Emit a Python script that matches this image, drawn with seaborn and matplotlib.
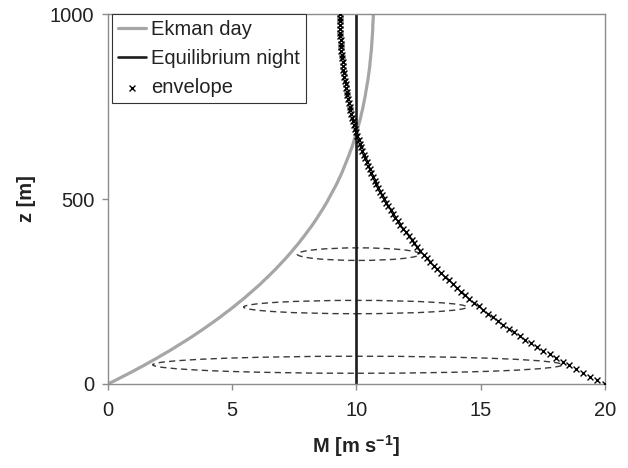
import numpy as np
import pandas as pd
import seaborn as sns
import matplotlib
matplotlib.use("Agg")
import matplotlib.pyplot as plt
from matplotlib.patches import Ellipse

# heights [m], 10 m steps
z = np.arange(0, 1001, 10)

# wind speed M [m/s]
ekman_day = [
    0.00, 0.30, 0.59, 0.88, 1.16, 1.44, 1.70, 1.97, 2.22, 2.48, 2.72,
    2.96, 3.20, 3.43, 3.65, 3.87, 4.08, 4.29, 4.50, 4.69, 4.89,
    5.08, 5.26, 5.45, 5.62, 5.79, 5.96, 6.13, 6.28, 6.44, 6.59,
    6.74, 6.88, 7.02, 7.16, 7.29, 7.42, 7.54, 7.67, 7.78, 7.90,
    8.01, 8.12, 8.23, 8.33, 8.43, 8.52, 8.62, 8.71, 8.80, 8.88,
    8.96, 9.04, 9.12, 9.20, 9.27, 9.34, 9.41, 9.47, 9.53, 9.59,
    9.65, 9.71, 9.76, 9.82, 9.87, 9.91, 9.96, 10.01, 10.05, 10.09,
    10.13, 10.17, 10.20, 10.24, 10.27, 10.30, 10.33, 10.36, 10.38, 10.41,
    10.43, 10.46, 10.48, 10.50, 10.52, 10.54, 10.55, 10.57, 10.58, 10.60,
    10.61, 10.62, 10.63, 10.64, 10.65, 10.66, 10.66, 10.67, 10.68, 10.68,
]
envelope = [
    20.00, 19.70, 19.41, 19.12, 18.84, 18.56, 18.30, 18.03, 17.78, 17.52, 17.28,
    17.04, 16.80, 16.57, 16.35, 16.13, 15.92, 15.71, 15.50, 15.31, 15.11,
    14.92, 14.74, 14.55, 14.38, 14.21, 14.04, 13.87, 13.72, 13.56, 13.41,
    13.26, 13.12, 12.98, 12.84, 12.71, 12.58, 12.46, 12.33, 12.22, 12.10,
    11.99, 11.88, 11.77, 11.67, 11.57, 11.48, 11.38, 11.29, 11.20, 11.12,
    11.04, 10.96, 10.88, 10.80, 10.73, 10.66, 10.59, 10.53, 10.47, 10.41,
    10.35, 10.29, 10.24, 10.18, 10.13, 10.09, 10.04, 9.99, 9.95, 9.91,
    9.87, 9.83, 9.80, 9.76, 9.73, 9.70, 9.67, 9.64, 9.62, 9.59,
    9.57, 9.54, 9.52, 9.50, 9.48, 9.46, 9.45, 9.43, 9.42, 9.40,
    9.39, 9.38, 9.37, 9.36, 9.35, 9.34, 9.34, 9.33, 9.32, 9.32,
]
eq_z = [0, 1000]
eq_night = [10, 10]

# dashed ellipses: centre M, centre z, width (M), height (z)
ell_x = [10.05, 9.96, 10.09]
ell_z = [52, 208, 351]
ell_w = [16.5, 9.0, 4.95]
ell_h = [46, 36, 34]

df = pd.DataFrame({"z": z, "ekman": ekman_day, "envelope": envelope})
eq = pd.DataFrame({"z": eq_z, "M": eq_night})

FS = 14.5

sns.set_theme(style="white")
plt.rcParams["font.family"] = ["Liberation Sans", "DejaVu Sans"]
plt.rcParams["mathtext.fontset"] = "custom"
plt.rcParams["mathtext.rm"] = "Liberation Sans"
plt.rcParams["mathtext.bf"] = "Liberation Sans:bold"

fig, ax = plt.subplots(figsize=(6.28, 4.68), dpi=100)
fig.subplots_adjust(left=0.172, right=0.963, bottom=0.1795, top=0.970)

sns.lineplot(data=df, x="ekman", y="z", sort=False, estimator=None,
             color="#a6a6a6", linewidth=2.3, label="Ekman day", ax=ax)
sns.lineplot(data=eq, x="M", y="z", sort=False, estimator=None,
             color="#1c1c1c", linewidth=1.9, label="Equilibrium night", ax=ax)
sns.scatterplot(data=df, x="envelope", y="z", marker="x", color="black",
                s=18, linewidth=1.0, label="envelope", ax=ax, zorder=3)

for cx, cz, w, h in zip(ell_x, ell_z, ell_w, ell_h):
    ax.add_patch(Ellipse((cx, cz), w, h, fill=False, edgecolor="#3a3a3a",
                         linewidth=1.0, linestyle=(0, (4.5, 3))))

ax.set_xlim(0, 20)
ax.set_ylim(0, 1000)
ax.set_xticks([0, 5, 10, 15, 20])
ax.set_yticks([0, 500, 1000])

for sp in ax.spines.values():
    sp.set_color("#8c8c8c")
    sp.set_linewidth(1.0)

ax.tick_params(axis="both", direction="out", length=4, width=1,
               color="#8c8c8c", labelsize=FS, labelcolor="#222222")
ax.tick_params(axis="x", pad=8, bottom=True)
ax.tick_params(axis="y", pad=6, left=True)

ax.set_xlabel(r"M [m s$^{\mathbf{-1}}$]", fontsize=FS, fontweight="bold",
              color="#222222", labelpad=10)
ax.set_ylabel("z [m]", fontsize=FS, fontweight="bold", color="#222222",
              labelpad=10)

leg = ax.legend(loc="upper left", bbox_to_anchor=(0.008, 1.0), borderaxespad=0,
                fontsize=FS, frameon=True, fancybox=False, framealpha=1,
                edgecolor="#333333", handlelength=1.4, handletextpad=0.25,
                labelspacing=0.5, borderpad=0.3)
leg.get_frame().set_linewidth(0.8)
for t in leg.get_texts():
    t.set_color("#222222")

fig.savefig("out.png", dpi=100)
